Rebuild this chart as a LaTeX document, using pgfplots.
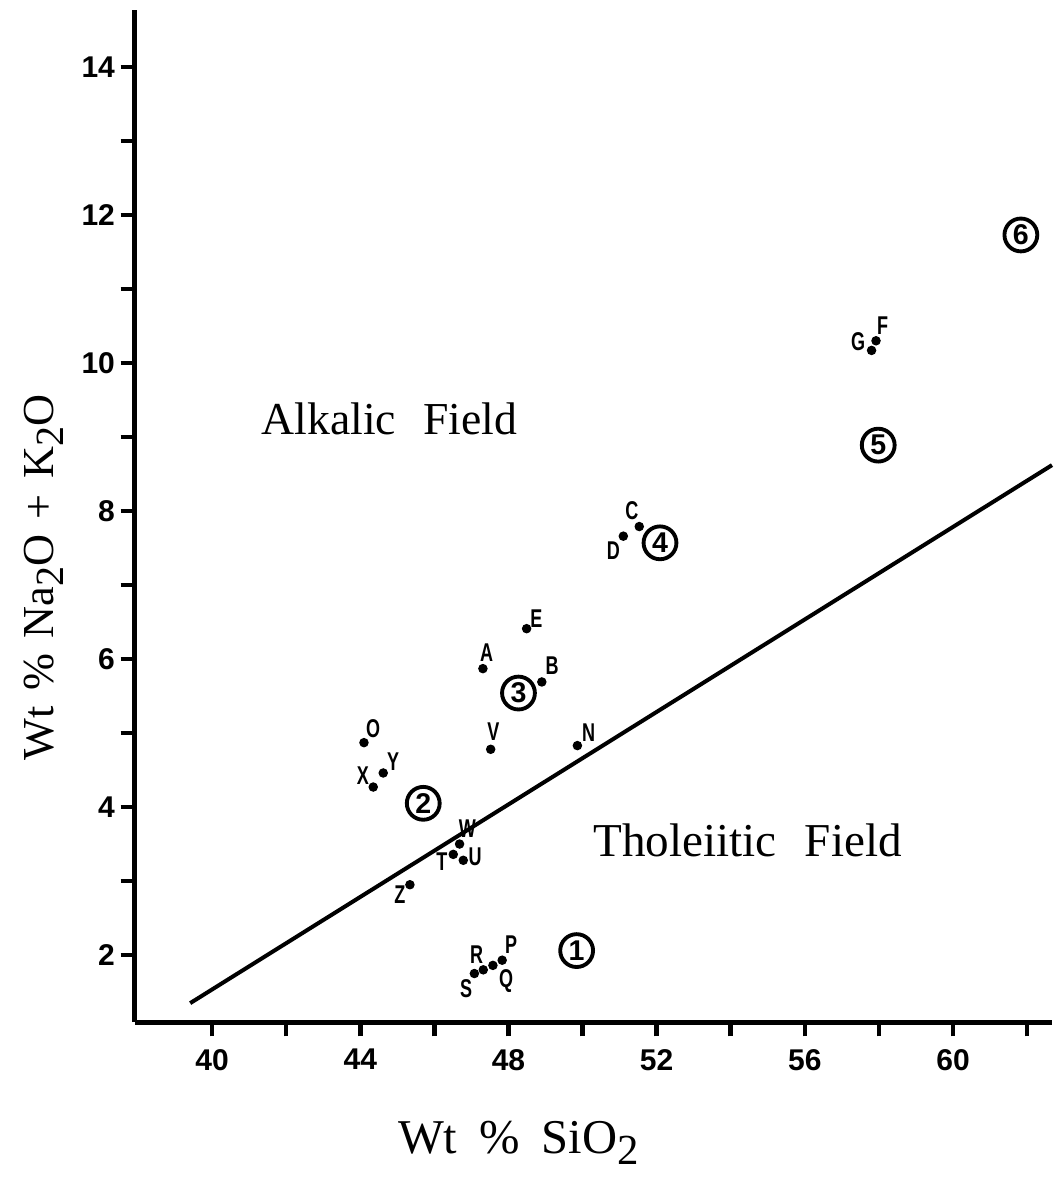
\documentclass[border=0pt]{standalone}
\usepackage{pgfplots}
\pgfplotsset{compat=1.18}
\usepackage{pgfplotstable}
\usepackage{fontspec}
\setmainfont{Liberation Serif}
\newfontfamily\sansb{Liberation Sans}
\newfontfamily\cond[FakeStretch=0.7]{Liberation Sans}

% sample points (wt% SiO2, wt% Na2O+K2O)
\pgfplotstableread{
x y
48.49 6.41
47.31 5.87
48.90 5.69
44.10 4.87
44.62 4.46
44.35 4.27
47.52 4.78
49.86 4.83
46.68 3.50
46.51 3.36
46.78 3.28
45.34 2.95
47.08 1.75
47.32 1.80
47.58 1.86
47.83 1.93
51.53 7.79
51.10 7.66
57.92 10.30
57.80 10.17
}\samples

% letter labels
\pgfplotstableread{
x y t
48.75 6.55 E
47.41 6.08 A
49.18 5.91 B
44.35 5.06 O
44.07 4.43 X
44.89 4.61 Y
47.59 5.02 V
50.16 5.00 N
46.89 3.71 W
46.20 3.26 T
47.10 3.33 U
45.07 2.81 Z
47.14 2.00 R
48.07 2.14 P
47.94 1.65 Q
46.86 1.55 S
51.33 8.01 C
50.83 7.47 D
57.44 10.29 G
58.10 10.51 F
}\letters

% numbered groups
\pgfplotstableread{
x y t
49.84 2.06 1
45.70 4.05 2
48.27 5.54 3
52.09 7.57 4
57.98 8.89 5
61.83 11.73 6
}\groups

\begin{document}
\begin{tikzpicture}
\begin{axis}[
    scale only axis,
    width=320.95pt, height=354.2pt,
    xmin=37.92, xmax=62.67,
    ymin=1.095, ymax=14.77,
    axis x line*=bottom, axis y line*=left,
    axis line style={line width=1.75pt, -},
    xtick={40,44,...,60}, minor xtick={42,46,...,62},
    ytick={2,4,...,14}, minor ytick={3,5,...,13},
    tick align=outside,
    major tick length=5pt, minor tick length=5pt,
    every tick/.style={black, line width=1.6pt},
    every minor tick/.style={black, line width=1.6pt},
    /pgf/number format/assume math mode=true,
    ticklabel style={font=\sansb\bfseries\fontsize{10.5}{11}\selectfont},
    xticklabel style={yshift=-1pt},
    yticklabel style={xshift=1.5pt},
    xlabel={Wt\hspace{0.45em}\%\hspace{0.45em}SiO\raisebox{-0.5ex}{\fontsize{15}{15}\selectfont 2}},
    ylabel={Wt\hspace{0.35em}\%\hspace{0.35em}Na\raisebox{-0.5ex}{\fontsize{14}{14}\selectfont 2}O\hspace{0.35em}+\hspace{0.35em}K\raisebox{-0.5ex}{\fontsize{14}{14}\selectfont 2}O},
    xlabel style={font=\fontsize{17}{18}\selectfont, at={(rel axis cs:0.418,0)}, anchor=base, yshift=-45.9pt},
    ylabel style={font=\fontsize{15.5}{17}\selectfont, at={(rel axis cs:0,0.439)}, anchor=base, yshift=28.7pt},
    clip=false,
]
\coordinate (sw) at (rel axis cs:0,0);
\coordinate (ne) at (rel axis cs:1,1);

% dividing line
\addplot[black, line width=1.4pt] coordinates {(39.41,1.35) (62.67,8.62)};

\addplot[only marks, mark=*, mark size=1.45pt, black] table {\samples};

\addplot[draw=none, mark=none, nodes near coords, point meta=explicit symbolic,
    nodes near coords style={anchor=center, inner sep=0pt,
        font=\cond\bfseries\fontsize{9}{9}\selectfont}]
    table[meta=t] {\letters};

\addplot[draw=none, mark=none, nodes near coords, point meta=explicit symbolic,
    nodes near coords style={anchor=center, circle, draw, line width=1.35pt,
        minimum size=11.5pt, inner sep=0pt,
        font=\sansb\bfseries\fontsize{10}{10}\selectfont}]
    table[meta=t] {\groups};

\node[font=\fontsize{16}{18}\selectfont] at (axis cs:44.79,9.24) {Alkalic\hspace{0.6em}Field};
\node[font=\fontsize{16.5}{18}\selectfont] at (axis cs:54.45,3.55) {Tholeiitic\hspace{0.6em}Field};
\end{axis}
\pgfresetboundingbox
\path ([shift={(-47.25pt,-54.6pt)}]sw) rectangle ([shift={(1.75pt,3.5pt)}]ne);
\end{tikzpicture}
\end{document}
